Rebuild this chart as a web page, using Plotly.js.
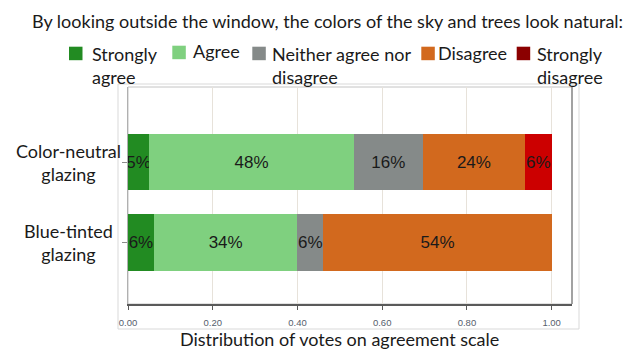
<!DOCTYPE html>
<html>
<head>
<meta charset="utf-8">
<script src="https://cdn.plot.ly/plotly-3.0.1.min.js"></script>
<style>html,body{margin:0;padding:0;background:#fff;}#chart{width:634px;height:350px;}</style>
</head>
<body>
<div id="chart"></div>
<script>
// ---- data ----
const categories = ['Blue-tinted glazing', 'Color-neutral glazing'];
const categoryLabels = ['Blue-tinted<br>glazing', 'Color-neutral<br>glazing'];
const levels = ['Strongly agree', 'Agree', 'Neither agree nor disagree', 'Disagree', 'Strongly disagree'];
const legendLabels = ['Strongly<br>agree', 'Agree', 'Neither agree nor<br>disagree', 'Disagree', 'Strongly<br>disagree'];
// values per level, ordered as categories [Blue-tinted, Color-neutral]
const stronglyAgree    = [0.061, 0.050];
const agree            = [0.339, 0.483];
const neither          = [0.061, 0.163];
const disagree         = [0.539, 0.241];
const stronglyDisagree = [0.000, 0.063];
const xTickVals = [0, 0.2, 0.4, 0.6, 0.8, 1.0];
const xTickText = ['0.00', '0.20', '0.40', '0.60', '0.80', '1.00'];
const titleText = 'By looking outside the window, the colors of the sky and trees look natural:';
const xTitleText = 'Distribution of votes on agreement scale';

// ---- styles ----
const barColors = ['#228B22', '#7FD07F', '#858A89', '#D2691E', '#CC0000'];
const swatchColors = ['#228B22', '#7FD07F', '#858A89', '#D2691E', '#8B0000'];
const series = [stronglyAgree, agree, neither, disagree, stronglyDisagree];

const W = 634, H = 350;
const M = {l: 128, r: 62, t: 87, b: 46};
const pxX = x => (x - M.l) / (W - M.l - M.r);
const pxY = y => (H - M.b - y) / (H - M.t - M.b);
const sansUI = 'Lato, Carlito, Calibri, sans-serif';
const sansLbl = 'Liberation Sans, Arial, sans-serif';
const uiSize = 18;

const traces = series.map((vals, i) => ({
  type: 'bar',
  orientation: 'h',
  name: levels[i],
  y: categories,
  x: vals,
  text: vals.map(v => v > 0 ? Math.round(v * 100) + '%' : ''),
  textposition: 'inside',
  insidetextanchor: 'middle',
  textangle: 0,
  constraintext: 'none',
  textfont: {family: sansLbl, size: 17, color: '#1a1a1a'},
  marker: {color: barColors[i], line: {width: 0}},
  showlegend: false,
  hoverinfo: 'skip'
}));

// legend layout (pixel positions)
const legendItems = [
  {sx: 69, sy: 46.7, tx: 90, ty: 65.3},
  {sx: 172.3, sy: 45.7, tx: 190.7, ty: 50.7},
  {sx: 252.3, sy: 46.7, tx: 270, ty: 65.3},
  {sx: 421.3, sy: 46.7, tx: 436.3, ty: 53.3},
  {sx: 516.7, sy: 46.7, tx: 534.7, ty: 65.3}
];
const swatch = 13.5;

const shapes = [
  // outer frame
  {type: 'rect', xref: 'paper', yref: 'paper', x0: pxX(118), x1: pxX(579), y0: pxY(329), y1: pxY(84),
   line: {color: '#d9d9d9', width: 1}, layer: 'below'},
  // panel border
  {type: 'rect', xref: 'paper', yref: 'paper', x0: 0, x1: 1, y0: 0, y1: 1,
   line: {color: '#c4c4c4', width: 1}, layer: 'below'},
  // right panel edge darker
  {type: 'line', xref: 'paper', yref: 'paper', x0: 1, x1: 1, y0: 0, y1: 1,
   line: {color: '#8c8c8c', width: 1.5}, layer: 'above'}
];
legendItems.forEach((it, i) => {
  shapes.push({type: 'rect', xref: 'paper', yref: 'paper',
    x0: pxX(it.sx), x1: pxX(it.sx + swatch), y0: pxY(it.sy + swatch), y1: pxY(it.sy),
    fillcolor: swatchColors[i], line: {width: 0}});
});

const annotations = [
  {text: titleText, xref: 'paper', yref: 'paper', x: pxX(327.8), y: pxY(20.7),
   xanchor: 'center', yanchor: 'middle', showarrow: false,
   font: {family: sansUI, size: uiSize, color: '#1a1a1a'}},
  {text: xTitleText, xref: 'x', yref: 'paper', x: 0.5, y: pxY(339),
   xanchor: 'center', yanchor: 'middle', showarrow: false,
   font: {family: sansUI, size: uiSize, color: '#1a1a1a'}}
];
legendItems.forEach((it, i) => {
  annotations.push({text: legendLabels[i], xref: 'paper', yref: 'paper',
    x: pxX(it.tx), y: pxY(it.ty), xanchor: 'left', yanchor: 'middle', align: 'left',
    showarrow: false, font: {family: sansUI, size: uiSize, color: '#1a1a1a'}});
});
categories.forEach((c, i) => {
  annotations.push({text: categoryLabels[i], xref: 'paper', yref: 'y', x: pxX(68), y: c,
    xanchor: 'center', yanchor: 'middle', align: 'center', showarrow: false,
    font: {family: sansUI, size: uiSize, color: '#1a1a1a'}});
});

const layout = {
  width: W, height: H,
  margin: M,
  paper_bgcolor: '#ffffff',
  plot_bgcolor: '#ffffff',
  barmode: 'stack',
  bargap: 0.3,
  showlegend: false,
  uniformtext: {mode: 'show', minsize: 17},
  xaxis: {
    range: [0, 1.048],
    tickvals: xTickVals, ticktext: xTickText,
    showgrid: true, gridcolor: '#e7e2da', gridwidth: 1,
    zeroline: false,
    showline: true, linecolor: '#5a5a5a', linewidth: 1.5,
    ticks: 'outside', ticklen: 4, tickcolor: '#5a5a5a', tickwidth: 1,
    ticklabelstandoff: 5,
    tickfont: {family: sansLbl, size: 9.5, color: '#56606c'},
    fixedrange: true
  },
  yaxis: {
    type: 'category',
    categoryorder: 'array', categoryarray: categories,
    range: [-0.765, 1.934],
    showgrid: false, zeroline: false,
    showline: true, linecolor: '#b0b0b0', linewidth: 1,
    ticks: 'outside', ticklen: 5, tickcolor: '#8c8c8c',
    showticklabels: false,
    fixedrange: true
  },
  shapes: shapes,
  annotations: annotations
};

Plotly.newPlot('chart', traces, layout, {displayModeBar: false, staticPlot: true});
</script>
</body>
</html>
